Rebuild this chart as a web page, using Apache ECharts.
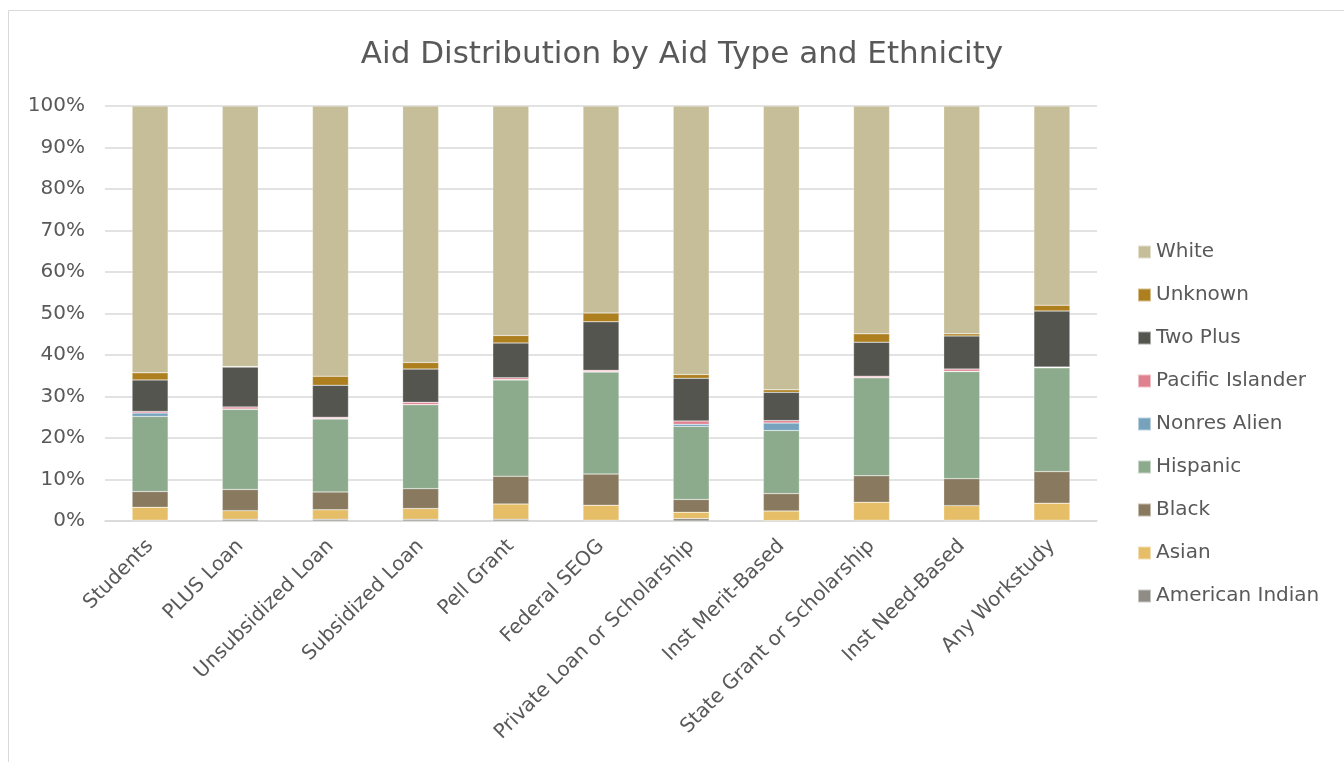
<!DOCTYPE html>
<html>
<head>
<meta charset="utf-8">
<title>Aid Distribution by Aid Type and Ethnicity</title>
<script src="https://cdn.jsdelivr.net/npm/echarts@6/dist/echarts.min.js"></script>
<style>
  html, body { margin: 0; padding: 0; background: #ffffff; }
  #chart { width: 1344px; height: 762px; }
</style>
</head>
<body>
<div id="chart"></div>
<script>
// Aid types along the x axis
const categories = ['Students', 'PLUS Loan', 'Unsubsidized Loan', 'Subsidized Loan', 'Pell Grant',
  'Federal SEOG', 'Private Loan or Scholarship', 'Inst Merit-Based', 'State Grant or Scholarship',
  'Inst Need-Based', 'Any Workstudy'];

// Share of recipients (%) by ethnicity, bottom of the stack first
const americanIndian = [0.2, 0.4, 0.4, 0.4, 0.4, 0.2, 0.6, 0.1, 0.2, 0.2, 0.2];
const asian          = [3.1, 2.1, 2.3, 2.6, 3.7, 3.6, 1.5, 2.3, 4.3, 3.5, 4.1];
const black          = [3.8, 5.1, 4.3, 4.8, 6.7, 7.5, 3.1, 4.2, 6.4, 6.5, 7.6];
const hispanic       = [18.1, 19.3, 17.6, 20.2, 23.2, 24.6, 17.6, 15.2, 23.6, 25.8, 25.0];
const nonresAlien    = [0.8, 0.1, 0.1, 0.1, 0.1, 0.1, 0.5, 1.8, 0.1, 0.1, 0.1];
const pacificIslander= [0.4, 0.5, 0.3, 0.5, 0.4, 0.3, 0.8, 0.6, 0.3, 0.5, 0.1];
const twoPlus        = [7.6, 9.6, 7.7, 8.0, 8.4, 11.7, 10.3, 6.8, 8.2, 8.0, 13.5];
const unknown        = [1.7, 0.1, 2.2, 1.6, 1.8, 2.1, 0.9, 0.6, 2.0, 0.5, 1.4];
const white          = [64.3, 62.8, 65.1, 61.8, 55.3, 49.9, 64.7, 68.4, 54.9, 54.9, 48.0];

// Y axis tick values (%)
const yTicks = [0, 10, 20, 30, 40, 50, 60, 70, 80, 90, 100];

const seriesDefs = [
  { name: 'American Indian', data: americanIndian, color: '#8E8C84' },
  { name: 'Asian', data: asian, color: '#E5BE67' },
  { name: 'Black', data: black, color: '#897A5F' },
  { name: 'Hispanic', data: hispanic, color: '#8CAA8C' },
  { name: 'Nonres Alien', data: nonresAlien, color: '#76A2BE' },
  { name: 'Pacific Islander', data: pacificIslander, color: '#E0818F' },
  { name: 'Two Plus', data: twoPlus, color: '#54554F' },
  { name: 'Unknown', data: unknown, color: '#AD7F1E' },
  { name: 'White', data: white, color: '#C5BE98' }
];

const textColor = '#595959';
const fontFamily = '"DejaVu Sans", "Liberation Sans", sans-serif';

const chart = echarts.init(document.getElementById('chart'), null, { renderer: 'canvas' });

chart.setOption({
  backgroundColor: '#ffffff',
  animation: false,
  textStyle: { fontFamily: fontFamily },
  graphic: [{
    type: 'rect',
    shape: { x: 8.5, y: 10.5, width: 1345, height: 760 },
    style: { fill: 'none', stroke: '#d9d9d9', lineWidth: 1 },
    silent: true
  }],
  title: {
    text: 'Aid Distribution by Aid Type and Ethnicity',
    left: 677,
    top: 34,
    textAlign: 'center',
    textStyle: { color: textColor, fontSize: 31, fontWeight: 'normal', fontFamily: fontFamily }
  },
  legend: {
    orient: 'vertical',
    left: 1132,
    top: 237,
    itemWidth: 13,
    itemHeight: 13,
    itemGap: 23,
    icon: 'rect',
    data: seriesDefs.map(s => s.name).reverse(),
    textStyle: { color: textColor, fontSize: 20, fontFamily: fontFamily }
  },
  grid: {
    left: 105,
    right: 247,
    top: 106,
    bottom: 241,
    containLabel: false
  },
  xAxis: {
    type: 'category',
    data: categories,
    axisTick: { show: false },
    axisLine: { lineStyle: { color: '#d9d9d9', width: 1.5 } },
    axisLabel: {
      rotate: 45,
      interval: 0,
      color: textColor,
      fontSize: 20,
      margin: 22,
      fontFamily: fontFamily
    }
  },
  yAxis: {
    type: 'value',
    min: yTicks[0],
    max: yTicks[yTicks.length - 1],
    interval: yTicks[1] - yTicks[0],
    axisLine: { show: false },
    axisTick: { show: false },
    splitLine: { lineStyle: { color: '#d9d9d9', width: 1.5 } },
    axisLabel: {
      color: textColor,
      fontSize: 20,
      margin: 20,
      fontFamily: fontFamily,
      formatter: '{value}%'
    }
  },
  series: seriesDefs.map(s => ({
    name: s.name,
    type: 'bar',
    stack: 'total',
    barWidth: 36,
    data: s.data,
    itemStyle: { color: s.color, borderColor: 'rgba(255,255,255,0.5)', borderWidth: 0.5 }
  }))
});
</script>
</body>
</html>
